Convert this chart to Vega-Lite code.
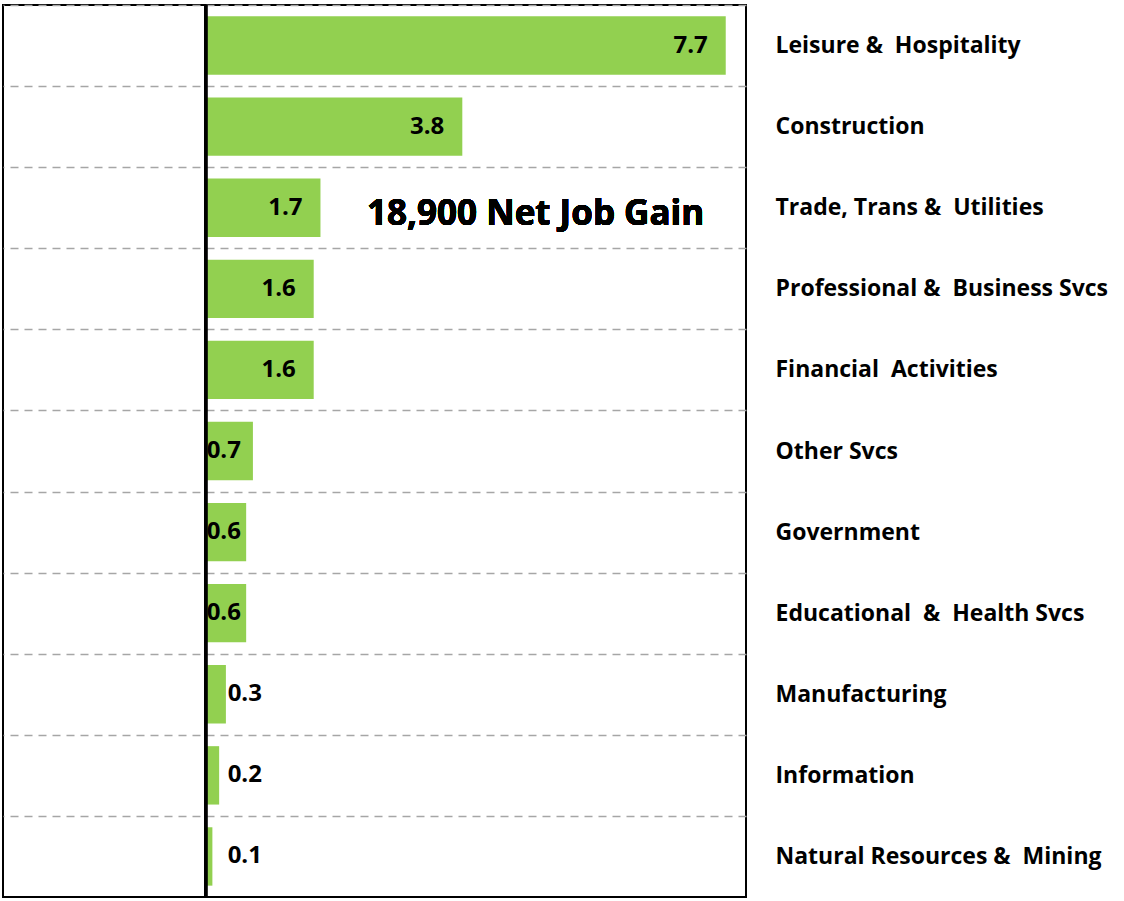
{
  "$schema": "https://vega.github.io/schema/vega-lite/v6.json",
  "width": 743,
  "height": 892,
  "padding": {"left": 3, "top": 3, "right": 2, "bottom": 2},
  "background": "white",
  "config": {
    "view": {"stroke": "black", "strokeWidth": 2},
    "font": "Open Sans"
  },
  "data": {
    "values": [
      {"industry": "Leisure &\u00a0 Hospitality", "value": 7.7},
      {"industry": "Construction", "value": 3.8},
      {"industry": "Trade, Trans &\u00a0 Utilities", "value": 1.7},
      {"industry": "Professional &\u00a0 Business Svcs", "value": 1.6},
      {"industry": "Financial\u00a0 Activities", "value": 1.6},
      {"industry": "Other Svcs", "value": 0.7},
      {"industry": "Government", "value": 0.6},
      {"industry": "Educational\u00a0 &\u00a0 Health Svcs", "value": 0.6},
      {"industry": "Manufacturing", "value": 0.3},
      {"industry": "Information", "value": 0.2},
      {"industry": "Natural Resources &\u00a0 Mining", "value": 0.1}
    ]
  },
  "encoding": {
    "y": {
      "field": "industry",
      "type": "nominal",
      "sort": null,
      "scale": {"paddingInner": 0.28, "paddingOuter": 0.14},
      "axis": {
        "orient": "right",
        "title": null,
        "domain": false,
        "ticks": false,
        "grid": true,
        "gridDash": [8, 6],
        "gridColor": "#a6a6a6",
        "gridWidth": 1.5,
        "bandPosition": 0,
        "tickOffset": -11.35,
        "labelOffset": 11.35,
        "labelPadding": 29,
        "labelFont": "Open Sans",
        "labelFontWeight": "bold",
        "labelFontSize": 23,
        "labelColor": "black",
        "labelLimit": 400,
        "labelAlign": "left"
      }
    }
  },
  "layer": [
    {
      "mark": {"type": "bar", "color": "#92d050"},
      "encoding": {
        "x": {"field": "value", "type": "quantitative", "scale": {"domain": [-3, 8], "nice": false, "zero": false}, "axis": null}
      }
    },
    {
      "mark": {"type": "rule", "color": "black", "strokeWidth": 3},
      "encoding": {"x": {"datum": 0}, "y": null}
    },
    {
      "transform": [{"filter": "datum.value >= 1"}],
      "mark": {"type": "text", "align": "right", "dx": -18, "fontSize": 24, "fontWeight": "bold", "font": "Open Sans", "color": "black"},
      "encoding": {
        "x": {"field": "value", "type": "quantitative"},
        "text": {"field": "value", "type": "quantitative", "format": ".1f"}
      }
    },
    {
      "transform": [{"filter": "datum.value >= 0.5 && datum.value < 1"}],
      "mark": {"type": "text", "align": "left", "dx": 1, "fontSize": 24, "fontWeight": "bold", "font": "Open Sans", "color": "black"},
      "encoding": {
        "x": {"datum": 0},
        "text": {"field": "value", "type": "quantitative", "format": ".1f"}
      }
    },
    {
      "transform": [{"filter": "datum.value < 0.5"}],
      "mark": {"type": "text", "align": "left", "dx": 22, "fontSize": 24, "fontWeight": "bold", "font": "Open Sans", "color": "black"},
      "encoding": {
        "x": {"datum": 0},
        "text": {"field": "value", "type": "quantitative", "format": ".1f"}
      }
    },
    {
      "mark": {"type": "text", "align": "left", "dy": 6, "fontSize": 35, "fontWeight": "bold", "font": "Open Sans", "color": "black", "text": "18,900 Net Job Gain"},
      "encoding": {
        "x": {"datum": 2.39},
        "y": {"datum": "Trade, Trans &\u00a0 Utilities"}
      }
    }
  ]
}
